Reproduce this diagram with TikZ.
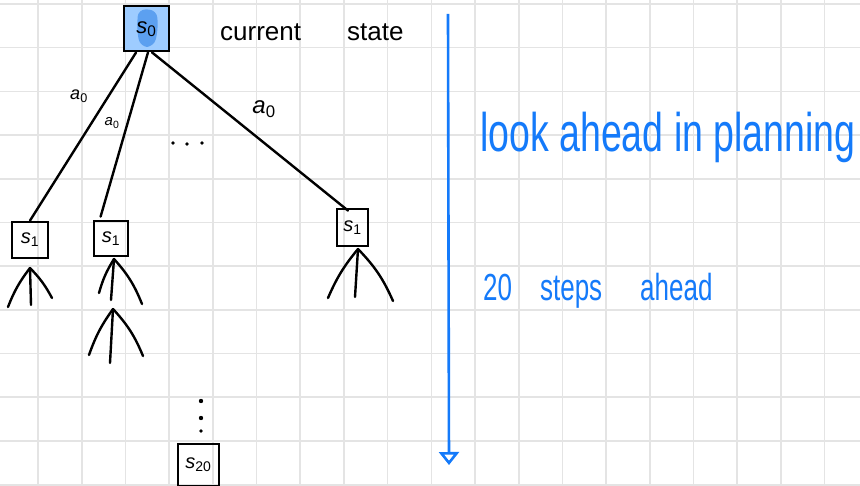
\documentclass[tikz,border=0pt]{standalone}
\usepackage{fontspec}
\setmainfont{Liberation Sans}
\usetikzlibrary{arrows.meta,calc}
\definecolor{gridgray}{RGB}{228,228,228}
\definecolor{penblue}{RGB}{20,122,250}
\definecolor{boxblue}{RGB}{158,204,255}
\definecolor{blobblue}{RGB}{92,160,240}
\newcommand{\sub}[2]{\textit{#1}\textsubscript{#2}}
\tikzset{
  gridline/.style={draw=gridgray,line width=1.6pt},
  sbox/.style={draw=black,line width=2.8pt,inner sep=0pt,font=\fontsize{20}{22}\selectfont},
  edge/.style={draw=black,line width=2.4pt,line cap=round},
  fanline/.style={draw=black,line width=2.4pt,line cap=round},
  alabel/.style={font=\fontsize{18}{20}\selectfont,inner sep=0pt},
  blacktext/.style={font=\fontsize{26}{28}\selectfont,inner sep=0pt,anchor=west},
  bluetext/.style={text=penblue,inner sep=0pt,anchor=west},
  bluearrow/.style={draw=penblue,line width=2.6pt,-{Triangle[open,length=13pt,width=20pt,line width=2.6pt]}}
}
\begin{document}
\begin{tikzpicture}[x=1pt,y=-1pt]
\useasboundingbox (0,0) rectangle (860,486);
\fill[white] (0,0) rectangle (860,486);
% grid
\foreach \i in {0,...,18} \draw[gridline] ({38+43.7*\i},0) -- ({38+43.7*\i},486);
\foreach \j in {0,...,11} \draw[gridline] (0,{4+43.7*\j}) -- (860,{4+43.7*\j});

% root state box
\node[sbox,fill=boxblue,minimum width=45pt,minimum height=45pt] (s0) at (146.5,28.5) {};
\fill[blobblue,rounded corners=8pt] (138,9) -- (157,10) -- (158,30) -- (154,47) -- (140,47) -- (137,30) -- cycle;
\node[font=\fontsize{22}{24}\selectfont,inner sep=0pt] (s0t) at (146.5,29) {\sub{s}{0}};
\node[blacktext] (cur) at (220,32) {current\hspace{46pt}state};

% child boxes
\node[sbox,minimum width=36pt,minimum height=36pt] (sL) at (30,240) {\sub{s}{1}};
\node[sbox,minimum width=34pt,minimum height=35pt] (sM) at (111,238.5) {\sub{s}{1}};
\node[sbox,minimum width=31pt,minimum height=37pt] (sR) at (352.5,227.5) {\sub{s}{1}};
\node[sbox,minimum width=41pt,minimum height=42pt] (s20) at (198.5,465) {\sub{s}{20}};

% edges
\draw[edge] ($(s0.south west)+(13.5,0)$) -- (sL.north);
\draw[edge] ($(s0.south)+(1.5,0)$) -- ($(sM.north west)+(8,-3)$);
\draw[edge] ($(s0.south)+(5.5,0)$) -- ($(sR.north)+(-4.5,3)$);

% action labels
\node[alabel] (aL) at (79,96) {\sub{a}{0}};
\node[alabel,font=\fontsize{15}{17}\selectfont] (aM) at (112,123) {\sub{a}{0}};
\node[alabel,font=\fontsize{24}{26}\selectfont] (aR) at (264,109) {\sub{a}{0}};

% horizontal dots
\fill (173,143) circle (1.8pt);
\fill (187,144) circle (1.8pt);
\fill (202,143) circle (1.8pt);

% fans
\coordinate (fL) at (30,268);
\draw[fanline] (fL) to[bend right=8] (8,307);
\draw[fanline] (fL) -- (31,305);
\draw[fanline] (fL) to[bend left=8] (52,298);

\coordinate (fM1) at (114,259);
\draw[fanline] (fM1) to[bend right=8] (99,293);
\draw[fanline] (fM1) -- (111,300);
\draw[fanline] (fM1) to[bend left=10] (142,304);

\coordinate (fM2) at (113,309);
\draw[fanline] (fM2) to[bend right=8] (89,355);
\draw[fanline] (fM2) -- (110,363);
\draw[fanline] (fM2) to[bend left=10] (143,356);

\coordinate (fR) at (358,249);
\draw[fanline] (fR) to[bend right=8] (328,298);
\draw[fanline] (fR) -- (355,297);
\draw[fanline] (fR) to[bend left=10] (393,301);

% vertical dots
\fill (201,401) circle (2.2pt);
\fill (201,418) circle (2.2pt);
\fill (201,431) circle (1.8pt);

% blue arrow
\coordinate (atop) at (448,14);
\coordinate (abot) at (449,465);
\draw[bluearrow] (atop) -- (abot);

% blue texts
\node[bluetext] (look) at (480,137) {\scalebox{1}[1.45]{\fontsize{37.5}{40}\selectfont look ahead in planning}};
\node[bluetext] (steps) at (483,291) {\scalebox{1}[1.45]{\fontsize{26}{28}\selectfont 20\hspace{28pt}steps\hspace{38pt}ahead}};
\end{tikzpicture}
\end{document}
